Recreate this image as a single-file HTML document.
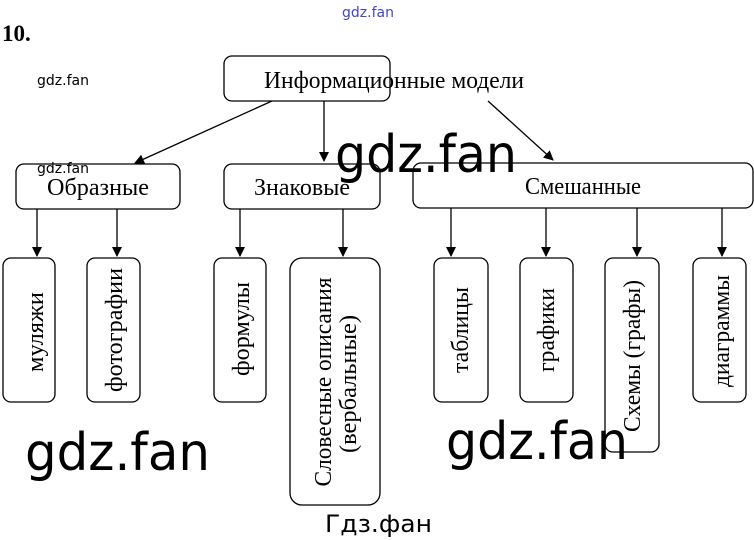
<!DOCTYPE html>
<html><head><meta charset="utf-8"><style>body{margin:0;background:#fff}svg{display:block}</style></head>
<body>
<svg width="754" height="540" viewBox="0 0 754 540" xmlns="http://www.w3.org/2000/svg">
<defs><marker id="a" markerWidth="10" markerHeight="10" refX="9" refY="5" orient="auto" markerUnits="userSpaceOnUse"><path d="M0,0 L10,5 L0,10 z" fill="#000"/></marker></defs>
<g font-family="Liberation Serif, serif" fill="#000">
<text x="2" y="41" font-size="23" font-weight="bold">10.</text>
</g>
<g fill="none" stroke="#000" stroke-width="1.3">
<rect x="224" y="56" width="166" height="45" rx="8"/>
<rect x="16" y="164" width="164" height="45" rx="8"/>
<rect x="224" y="164" width="156" height="45" rx="8"/>
<rect x="413" y="163" width="340" height="45" rx="8"/>
<rect x="3" y="258" width="52" height="144" rx="8"/>
<rect x="87" y="258" width="53" height="144" rx="8"/>
<rect x="214" y="258" width="52" height="144" rx="8"/>
<rect x="290" y="258" width="90" height="247" rx="12"/>
<rect x="434" y="258" width="54" height="144" rx="8"/>
<rect x="520" y="258" width="53" height="144" rx="8"/>
<rect x="605" y="258" width="54" height="194" rx="8"/>
<rect x="693" y="258" width="53" height="144" rx="8"/>
<line x1="272" y1="101" x2="135" y2="163" marker-end="url(#a)"/>
<line x1="324" y1="101" x2="324" y2="161" marker-end="url(#a)"/>
<line x1="488" y1="101" x2="553" y2="160" marker-end="url(#a)"/>
<line x1="37" y1="209" x2="37" y2="256" marker-end="url(#a)"/>
<line x1="117" y1="209" x2="117" y2="256" marker-end="url(#a)"/>
<line x1="240" y1="209" x2="240" y2="256" marker-end="url(#a)"/>
<line x1="343" y1="209" x2="343" y2="256" marker-end="url(#a)"/>
<line x1="451" y1="208" x2="451" y2="256" marker-end="url(#a)"/>
<line x1="546" y1="208" x2="546" y2="256" marker-end="url(#a)"/>
<line x1="637" y1="208" x2="637" y2="256" marker-end="url(#a)"/>
<line x1="722" y1="208" x2="722" y2="256" marker-end="url(#a)"/>
</g>
<g font-family="Liberation Serif, serif" font-size="24" fill="#000" text-anchor="middle">
<text x="394" y="88" textLength="260" lengthAdjust="spacingAndGlyphs">Информационные модели</text>
<text x="98" y="195" textLength="102" lengthAdjust="spacingAndGlyphs">Образные</text>
<text x="302" y="195" textLength="96" lengthAdjust="spacingAndGlyphs">Знаковые</text>
<text x="583" y="194" textLength="116" lengthAdjust="spacingAndGlyphs">Смешанные</text>
<text transform="translate(35,332) rotate(-90)" dy="8" textLength="80" lengthAdjust="spacingAndGlyphs">муляжи</text>
<text transform="translate(114,330) rotate(-90)" dy="8" textLength="124" lengthAdjust="spacingAndGlyphs">фотографии</text>
<text transform="translate(241,329) rotate(-90)" dy="8" textLength="94" lengthAdjust="spacingAndGlyphs">формулы</text>
<text transform="translate(323,382) rotate(-90)" dy="8" textLength="209" lengthAdjust="spacingAndGlyphs">Словесные описания</text>
<text transform="translate(348,384) rotate(-90)" dy="8" textLength="138" lengthAdjust="spacingAndGlyphs">(вербальные)</text>
<text transform="translate(460,330) rotate(-90)" dy="8" textLength="86" lengthAdjust="spacingAndGlyphs">таблицы</text>
<text transform="translate(546,330) rotate(-90)" dy="8" textLength="84" lengthAdjust="spacingAndGlyphs">графики</text>
<text transform="translate(632,356) rotate(-90)" dy="8" textLength="152" lengthAdjust="spacingAndGlyphs">Схемы (графы)</text>
<text transform="translate(721,331) rotate(-90)" dy="8" textLength="112" lengthAdjust="spacingAndGlyphs">диаграммы</text>
</g>
<g font-family="DejaVu Sans, sans-serif" fill="#000">
<text x="342" y="17" font-size="14" fill="#4444cc">gdz.fan</text>
<text x="37" y="85" font-size="14">gdz.fan</text>
<text x="37" y="173" font-size="14">gdz.fan</text>
<text x="335" y="172" font-size="52" textLength="182" lengthAdjust="spacingAndGlyphs">gdz.fan</text>
<text x="25" y="470" font-size="52" textLength="185" lengthAdjust="spacingAndGlyphs">gdz.fan</text>
<text x="446" y="459" font-size="52" textLength="182" lengthAdjust="spacingAndGlyphs">gdz.fan</text>
<text x="325" y="532" font-size="24" textLength="107" lengthAdjust="spacingAndGlyphs">Гдз.фан</text>
</g>
</svg>
</body></html>
